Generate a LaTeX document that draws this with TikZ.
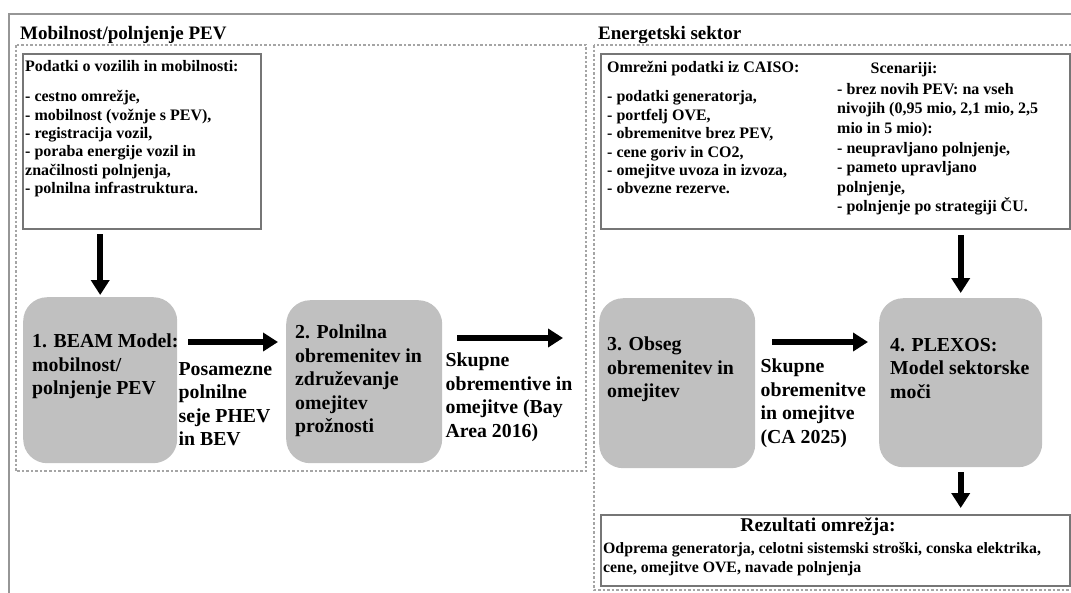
\documentclass[tikz,border=0pt]{standalone}
\usepackage{fontspec}
\setmainfont{Liberation Serif}
\usepackage{tikz}
\usetikzlibrary{positioning,arrows.meta}
\usepackage{xcolor}

\definecolor{stagegray}{RGB}{192,192,192}
\definecolor{framegray}{RGB}{150,150,150}
\definecolor{boxline}{RGB}{118,118,118}
\definecolor{dotgray}{RGB}{165,165,165}

\begin{document}
\begin{tikzpicture}[%
    x=1pt,
    y=-1pt,
    >={Triangle[length=15pt,width=18pt]},
    flow/.style={->, line width=6pt},
    stage/.style={%
      rectangle,
      rounded corners=24pt,
      fill=stagegray,
      inner sep=0pt,
      anchor=north west
    },
    stagetext/.style={anchor=north west, align=left, inner sep=0pt,
      font=\fontsize{19.8}{23.5}\selectfont\bfseries},
    datatext/.style={anchor=north west, align=left, inner sep=0pt,
      font=\fontsize{16}{18.4}\selectfont\bfseries},
    databox/.style={draw=boxline, line width=2pt, inner sep=0pt, anchor=north west},
    section/.style={draw=dotgray, line width=1.5pt, dash pattern=on 2.5pt off 2pt},
    heading/.style={anchor=base west, inner sep=0pt,
      font=\fontsize{19}{24}\selectfont\bfseries}
  ]
    \useasboundingbox (0,0) rectangle (1071,592);

    % frames
    \draw[framegray, line width=2.5pt] (9,14) rectangle (1100,620);
    \draw[section] (16,45) rectangle (586,471);
    \draw[section] (594,45) rectangle (1100,590);

    \node[heading] (mobtitle) at (20,39) {Mobilnost/polnjenje PEV};
    \node[heading] (enetitle) at (598,39) {Energetski sektor};

    % input data
    \node[databox, minimum width=238pt, minimum height=175pt] (mobdata) at (22,53) {};
    \node[datatext] (mobitems) at ([xshift=3pt,yshift=-7pt]mobdata.north west)
      {Podatki o vozilih in mobilnosti:\\[12pt]
       - cestno omrežje,\\
       - mobilnost (vožnje s PEV),\\
       - registracija vozil,\\
       - poraba energije vozil in\\
       značilnosti polnjenja,\\
       - polnilna infrastruktura.};

    \node[databox, minimum width=469pt, minimum height=175pt] (griddata) at (600,53) {};
    \node[datatext] (griditems) at ([xshift=7pt,yshift=-8pt]griddata.north west)
      {Omrežni podatki iz CAISO:\\[11pt]
       - podatki generatorja,\\
       - portfelj OVE,\\
       - obremenitve brez PEV,\\
       - cene goriv in CO2,\\
       - omejitve uvoza in izvoza,\\
       - obvezne rezerve.};
    \node[datatext, font=\fontsize{16}{19.6}\selectfont\bfseries] (scenitems)
      at ([xshift=237pt,yshift=-30pt]griddata.north west)
      {- brez novih PEV: na vseh\\
       nivojih (0,95 mio, 2,1 mio, 2,5\\
       mio in 5 mio):\\
       - neupravljano polnjenje,\\
       - pameto upravljano\\
       polnjenje,\\
       - polnjenje po strategiji ČU.};
    \node[datatext, anchor=base] (scenhead) at (904,73) {Scenariji:};

    % model stages
    \node[stage, minimum width=154pt, minimum height=166pt] (beam) at (23,297) {};
    \node[stagetext] (beamtext) at ([xshift=9pt,yshift=-37pt]beam.north west)
      {1. BEAM Model:\\ mobilnost/\\ polnjenje PEV};
    \node[stage, minimum width=156pt, minimum height=163pt] (agg) at (286,300) {};
    \node[stagetext] (aggtext) at ([xshift=9pt,yshift=-25pt]agg.north west)
      {2. Polnilna\\ obremenitev in\\ združevanje\\ omejitev\\ prožnosti};
    \node[stage, minimum width=156pt, minimum height=170pt] (obseg) at (599,298) {};
    \node[stagetext] (obsegtext) at ([xshift=8pt,yshift=-39pt]obseg.north west)
      {3. Obseg\\ obremenitev in\\ omejitev};
    \node[stage, minimum width=163pt, minimum height=169pt] (plexos) at (879,298) {};
    \node[stagetext] (plexostext) at ([xshift=11pt,yshift=-40pt]plexos.north west)
      {4. PLEXOS:\\ Model sektorske\\ moči};

    % flow labels
    \node[stagetext] (sejelbl) at ([xshift=1pt,yshift=-65pt]beam.north east)
      {Posamezne\\ polnilne\\ seje PHEV\\ in BEV};
    \node[stagetext] (baylbl) at ([xshift=3pt,yshift=-53pt]agg.north east)
      {Skupne\\ obrementive in\\ omejitve (Bay\\ Area 2016)};
    \node[stagetext] (calbl) at ([xshift=5pt,yshift=-61pt]obseg.north east)
      {Skupne\\ obremenitve\\ in omejitve\\ (CA 2025)};

    % results
    \node[databox, minimum width=469pt, minimum height=71pt] (results) at (600,514) {};
    \node[anchor=base, inner sep=0pt, font=\fontsize{19.5}{22}\selectfont\bfseries]
      (resulthead) at (818,531) {Rezultati omrežja:};
    \node[datatext, font=\fontsize{15.8}{19}\selectfont\bfseries] (resultitems)
      at ([xshift=3pt,yshift=-28pt]results.north west)
      {Odprema generatorja, celotni sistemski stroški, conska elektrika,\\
       cene, omejitve OVE, navade polnjenja};

    % arrows
    \coordinate (a1) at ([yshift=-45pt]beam.north east);
    \coordinate (a2) at ([yshift=-38pt]agg.north east);
    \coordinate (a3) at ([yshift=-44pt]obseg.north east);

    \draw[flow, shorten <=4pt, shorten >=2pt] (beam.north |- mobdata.south) -- (beam.north);
    \draw[flow, shorten <=11pt, shorten >=8pt] (a1) -- (a1 -| agg.west);
    \draw[flow, shorten <=15pt, shorten >=36pt] (a2) -- (a2 -| obseg.west);
    \draw[flow, shorten <=17pt, shorten >=11pt] (a3) -- (a3 -| plexos.west);
    \draw[flow, shorten <=5pt, shorten >=5pt] (plexos.north |- griddata.south) -- (plexos.north);
    \draw[flow, shorten <=5pt, shorten >=6pt] (plexos.south) -- (plexos.south |- results.north);
  \end{tikzpicture}
\end{document}
